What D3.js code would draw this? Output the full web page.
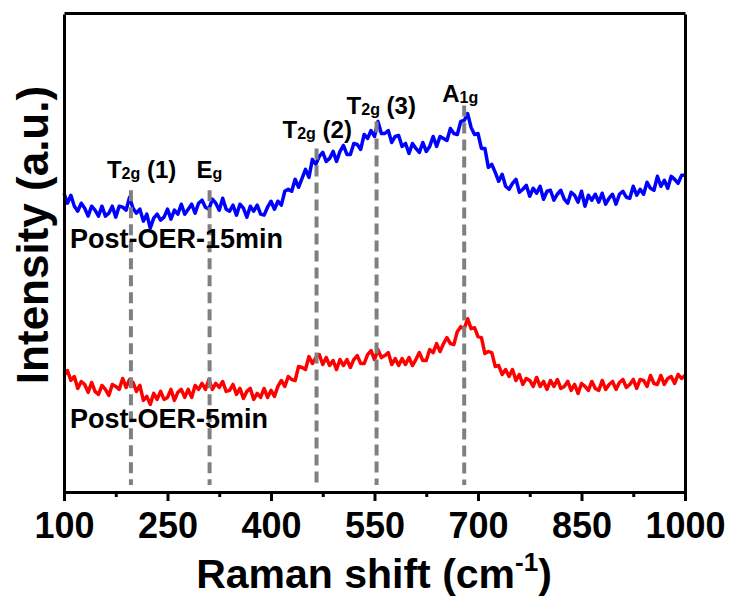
<!DOCTYPE html>
<html>
<head>
<meta charset="utf-8">
<script src="https://cdn.jsdelivr.net/npm/d3@7"></script>
<style>
  html, body { margin: 0; padding: 0; background: #fff; }
  svg { display: block; }
  text { font-family: "Liberation Sans", Arial, sans-serif; font-weight: bold; fill: #000; }
</style>
</head>
<body>
<svg id="chart" width="732" height="599"></svg>
<script>
// Raman shift grid (cm-1), 100 to 1000 in steps of 5
const ramanShift = d3.range(100, 1001, 5);

// Intensity (a.u., stacked offsets) after 15 min of OER
const intensity15min = [
  300, 290, 298, 287, 282, 290, 285, 277, 287, 283, 277, 287, 277, 280, 287, 276, 287, 286, 283, 296,
  285, 280, 284, 272, 279, 265, 275, 279, 273, 276, 284, 274, 283, 279, 289, 279, 284, 289, 280, 290,
  293, 286, 284, 294, 290, 283, 295, 284, 282, 288, 278, 289, 285, 276, 287, 282, 288, 279, 278, 286,
  292, 284, 292, 288, 302, 304, 302, 314, 306, 315, 324, 316, 334, 329, 337, 341, 332, 335, 342, 332,
  342, 348, 339, 339, 350, 349, 344, 359, 355, 363, 357, 372, 360, 360, 363, 351, 357, 358, 347, 350,
  340, 350, 345, 341, 351, 342, 347, 357, 347, 357, 355, 353, 365, 360, 359, 372, 373, 380, 366, 359,
  360, 345, 345, 326, 329, 321, 312, 319, 307, 304, 310, 314, 301, 304, 308, 297, 305, 300, 307, 294,
  302, 303, 293, 299, 303, 294, 290, 301, 298, 291, 302, 287, 298, 293, 299, 291, 300, 289, 295, 299,
  289, 299, 302, 296, 295, 307, 298, 304, 299, 311, 305, 303, 317, 307, 313, 305, 317, 314, 310, 318,
  318
];

// Intensity (a.u., stacked offsets) after 5 min of OER
const intensity5min = [
  117, 122, 112, 116, 104, 111, 108, 100, 110, 101, 98, 107, 103, 97, 108, 106, 103, 114, 105, 113,
  110, 101, 107, 92, 96, 88, 99, 93, 101, 93, 95, 103, 92, 100, 103, 95, 103, 95, 107, 103,
  109, 103, 113, 103, 109, 105, 111, 101, 102, 108, 98, 104, 94, 101, 104, 93, 99, 95, 104, 95,
  102, 96, 106, 112, 106, 116, 113, 112, 126, 125, 123, 136, 129, 135, 138, 128, 135, 127, 132, 123,
  133, 127, 133, 125, 133, 137, 129, 129, 138, 142, 133, 143, 135, 137, 140, 128, 134, 127, 134, 128,
  135, 127, 133, 140, 132, 132, 143, 140, 149, 141, 149, 155, 149, 148, 161, 166, 164, 174, 164, 165,
  156, 155, 139, 141, 140, 126, 127, 118, 123, 116, 123, 112, 118, 108, 114, 112, 106, 115, 106, 111,
  103, 112, 106, 113, 104, 106, 111, 102, 108, 99, 109, 106, 102, 111, 104, 102, 112, 103, 108, 111,
  103, 110, 113, 105, 108, 113, 104, 113, 112, 106, 117, 109, 108, 117, 108, 114, 116, 109, 118, 114,
  117
];

const seriesNames = ["Post-OER-15min", "Post-OER-5min"];
const seriesColors = ["#0000ff", "#ff0000"];

// Raman bands of the spinel oxide: position (cm-1) and the intensity where the marker starts
const bandShift = [197, 311, 466, 553, 680];
const bandTop = [303, 303, 345, 372, 388];
const bandBottom = 7;
const bandMain = ["T", "E", "T", "T", "A"];
const bandSub = ["2g", "g", "2g", "2g", "1g"];
const bandSuffix = [" (1)", "", " (2)", " (3)", ""];

// x-axis ticks
const majorTicks = [100, 250, 400, 550, 700, 850, 1000];
const minorTicks = [175, 325, 475, 625, 775, 925];

const svg = d3.select("#chart");
const plot = { left: 64, right: 685, top: 13, bottom: 492 };

const x = d3.scaleLinear().domain([100, 1000]).range([plot.left, plot.right]);
const y = d3.scaleLinear().domain([0, 480]).range([plot.bottom, plot.top + 1]);

// spectra
const line = d3.line()
  .x(d => x(d[0]))
  .y(d => y(d[1]));

[intensity15min, intensity5min].forEach((vals, i) => {
  svg.append("path")
    .datum(ramanShift.map((w, k) => [w, vals[k]]))
    .attr("d", line)
    .attr("fill", "none")
    .attr("stroke", seriesColors[i])
    .attr("stroke-width", 3.5)
    .attr("stroke-linejoin", "round");
});

// dashed band markers
svg.append("g").selectAll("line")
  .data(bandShift)
  .join("line")
  .attr("x1", d => x(d)).attr("x2", d => x(d))
  .attr("y1", (d, i) => y(bandTop[i]))
  .attr("y2", y(bandBottom))
  .attr("stroke", "#808080")
  .attr("stroke-width", 4)
  .attr("stroke-dasharray", "11,6");

// band labels, placed just above each marker
const labelShift = [[-24, -12], [-13, -12], [-34, -10], [-30, -8], [-22, -4]];
bandShift.forEach((w, i) => {
  const t = svg.append("text")
    .attr("x", x(w) + labelShift[i][0])
    .attr("y", y(bandTop[i]) + labelShift[i][1])
    .attr("font-size", 24);
  t.append("tspan").text(bandMain[i]);
  t.append("tspan").attr("font-size", 16).attr("dy", 1).text(bandSub[i]);
  if (bandSuffix[i]) t.append("tspan").attr("dy", -1).text(bandSuffix[i]);
});

// series labels
svg.append("text").attr("x", 70).attr("y", 248).attr("font-size", 27).text(seriesNames[0]);
svg.append("text").attr("x", 70).attr("y", 428).attr("font-size", 27).text(seriesNames[1]);

// frame
svg.append("g").attr("transform", `translate(0,${plot.top})`)
  .call(d3.axisTop(x).tickValues([]).tickSizeOuter(0))
  .call(g => g.select(".domain").attr("stroke-width", 3));
svg.append("g").attr("transform", `translate(${plot.right},0)`)
  .call(d3.axisRight(y).tickValues([]).tickSizeOuter(0))
  .call(g => g.select(".domain").attr("stroke-width", 3));
svg.append("g").attr("transform", `translate(${plot.left},0)`)
  .call(d3.axisLeft(y).tickValues([]).tickSizeOuter(0))
  .call(g => g.select(".domain").attr("stroke-width", 3));

// bottom axis with minor ticks
svg.append("g").attr("transform", `translate(0,${plot.bottom})`)
  .call(d3.axisBottom(x).tickValues(minorTicks).tickSize(5).tickFormat("").tickSizeOuter(0))
  .call(g => g.select(".domain").remove())
  .call(g => g.selectAll(".tick line").attr("stroke-width", 3));
svg.append("g").attr("transform", `translate(0,${plot.bottom})`)
  .call(d3.axisBottom(x).tickValues(majorTicks).tickFormat(d3.format("d")).tickSize(9).tickSizeOuter(0))
  .call(g => g.select(".domain").attr("stroke-width", 3))
  .call(g => g.selectAll(".tick line").attr("stroke-width", 3))
  .call(g => g.selectAll(".tick text")
    .attr("font-family", "Liberation Sans, Arial, sans-serif")
    .attr("font-weight", "bold")
    .attr("font-size", 36)
    .attr("fill", "#000")
    .attr("y", 0).attr("dy", 46));

// axis titles
const xt = svg.append("text")
  .attr("x", 374).attr("y", 588)
  .attr("text-anchor", "middle")
  .attr("font-size", 41);
xt.append("tspan").text("Raman shift (cm");
xt.append("tspan").attr("font-size", 26).attr("dy", -17).text("-1");
xt.append("tspan").attr("dy", 17).text(")");

svg.append("text")
  .attr("transform", "translate(48,235) rotate(-90)")
  .attr("text-anchor", "middle")
  .attr("font-size", 44)
  .text("Intensity (a.u.)");
</script>
</body>
</html>
